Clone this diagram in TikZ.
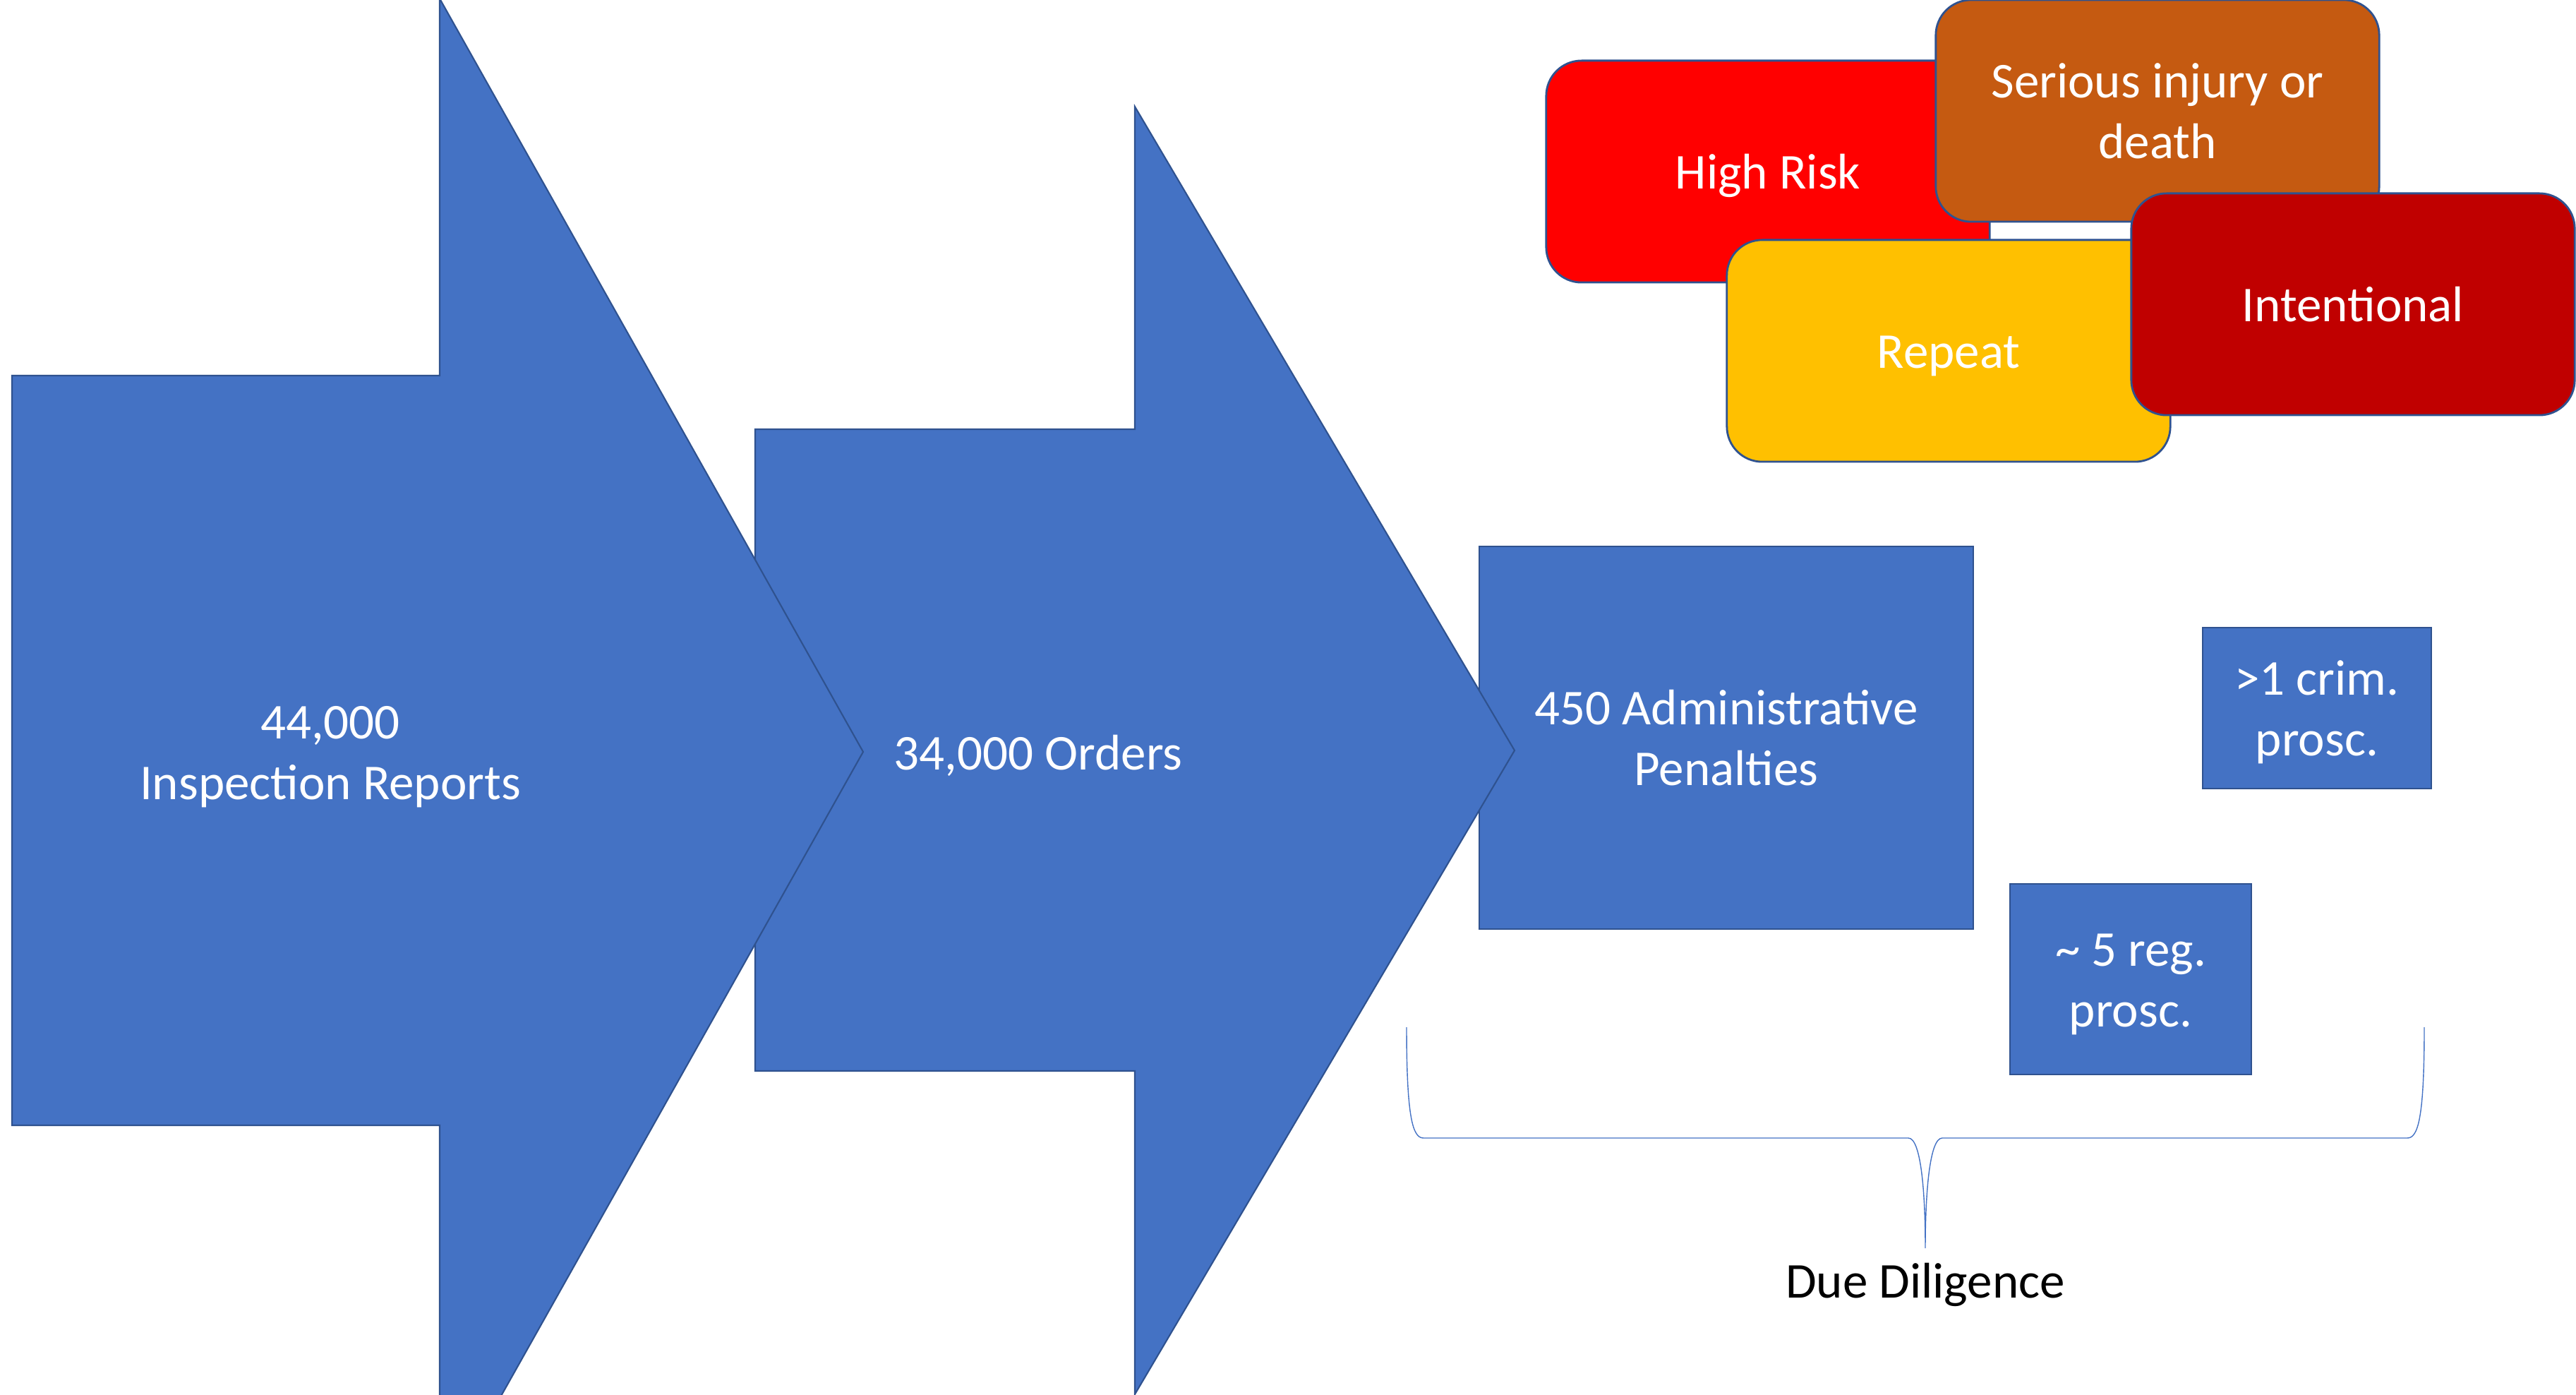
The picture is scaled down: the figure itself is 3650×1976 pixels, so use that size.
\documentclass[tikz,border=0pt]{standalone}
\usepackage{fontspec}
\setmainfont{Carlito}
\usetikzlibrary{positioning}

\definecolor{flowblue}{HTML}{4472C4}
\definecolor{edgeblue}{HTML}{2F528F}
\definecolor{riskred}{HTML}{FF0000}
\definecolor{injorange}{HTML}{C55A11}
\definecolor{repgold}{HTML}{FFC000}
\definecolor{intred}{HTML}{C00000}

\begin{document}
\begin{tikzpicture}[x=0.01cm,y=-0.01cm,
				bigtext/.style={font=\fontsize{20.2}{24.5}\selectfont},
				oneline/.style={text height=19.2pt, text depth=5.4pt},
				twoline/.style={text height=43.7pt, text depth=5.4pt},
				flow/.style={fill=flowblue, draw=edgeblue, line width=0.6pt},
				box/.style={flow, rectangle, inner sep=0pt, text=white, align=center, bigtext},
				tag/.style={rectangle, rounded corners=0.5cm, draw=edgeblue, line width=0.8pt, minimum width=6.28cm, minimum height=3.14cm, inner sep=0pt, text=white, align=center, bigtext},
				label/.style={text=white, align=center, inner sep=0pt, bigtext},
				brace/.style={draw=flowblue, line width=0.4pt}
			]
			
			\useasboundingbox (0,0) rectangle (3650,1976);
			
			\node[tag, oneline, fill=riskred] (risk) at (2505,243) {High Risk};
			\node[tag, twoline, fill=injorange] (injury) at (3057,157) {Serious injury or\\death};
			\node[tag, oneline, fill=repgold] (repeat) at (2761,497) {Repeat};
			\node[tag, oneline, fill=intred] (intent) at (3334,431) {Intentional};
			
			\node[box, twoline, minimum width=6.99cm, minimum height=5.41cm] (admin) at (2446,1045) {450 Administrative\\Penalties};
			\node[box, twoline, minimum width=3.23cm, minimum height=2.28cm] (crim) at (3283,1003) {>1 crim.\\prosc.};
			\node[box, twoline, minimum width=3.41cm, minimum height=2.70cm] (reg) at (3019,1387) {\textasciitilde{} 5 reg.\\prosc.};
			
			\draw[flow] (1070,608) -- (1608,608) -- (1608,151) -- (2146,1063) -- (1608,1975) -- (1608,1517) -- (1070,1517) -- cycle;
			\draw[flow] (17,532) -- (623,532) -- (623,-2) -- (1223,1065) -- (623,2132) -- (623,1594) -- (17,1594) -- cycle;
			
			\node[label, twoline] (reports) at (468,1065) {44,000\\Inspection Reports};
			\node[label, oneline] (orders) at (1471,1066) {34,000 Orders};
			
			\coordinate (bl) at (1993,1455);
			\coordinate (br) at (3435,1455);
			\coordinate (tip) at (2728,1768);
			
			\draw[brace] (bl) .. controls (1993,1585) and (2002,1612) .. (2017,1612) -- (2704,1612)
				.. controls (2722,1612) and (2728,1690) .. (tip)
				.. controls (2728,1690) and (2734,1612) .. (2752,1612) -- (3411,1612)
				.. controls (3426,1612) and (3435,1585) .. (br);
			
			\node[bigtext, inner sep=0pt] (dd) [below=0.2cm of tip] {Due Diligence};
		\end{tikzpicture}
\end{document}
